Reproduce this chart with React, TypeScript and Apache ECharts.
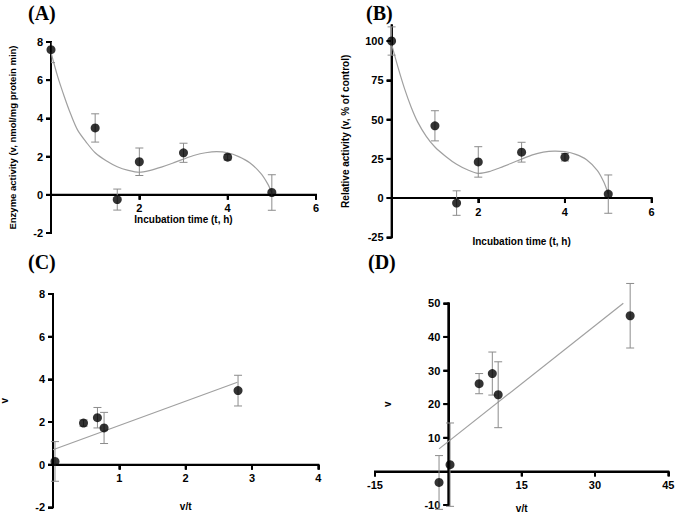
import React, { useEffect, useRef } from "react";
import * as echarts from "echarts";

// Panel A: enzyme activity vs incubation time
const timeA = [0, 1, 1.5, 2, 3, 4, 5];
const activityA = [7.6, 3.5, -0.25, 1.73, 2.2, 1.97, 0.12];
const errA = [0.68, 0.74, 0.55, 0.72, 0.5, 0.15, 0.93];
const fitTimeA = [0, 0.15, 0.3, 0.45, 0.6, 0.8, 1.0, 1.25, 1.5, 1.75, 2.0, 2.25, 2.5, 2.75, 3.0, 3.25, 3.5, 3.75, 4.0, 4.25, 4.5, 4.75, 4.9, 5.0];
const fitActivityA = [7.45, 6.2, 5.15, 4.2, 3.4, 2.75, 2.2, 1.78, 1.47, 1.28, 1.18, 1.28, 1.45, 1.65, 1.87, 2.07, 2.2, 2.26, 2.2, 2.0, 1.68, 1.12, 0.6, 0.12];

// Panel B: relative activity (% of control)
const timeB = [0, 1, 1.5, 2, 3, 4, 5];
const relativeB = [100, 46, -3.2, 23, 29.2, 26, 2.5];
const errB = [9, 9.6, 7.8, 9.7, 6.3, 2.4, 12.2];
const fitTimeB = [0, 0.15, 0.3, 0.45, 0.6, 0.8, 1.0, 1.25, 1.5, 1.75, 2.0, 2.25, 2.5, 2.75, 3.0, 3.25, 3.5, 3.75, 4.0, 4.25, 4.5, 4.75, 4.9, 5.0];
const fitRelativeB = [98, 83, 69.5, 58, 48.5, 39.3, 32.5, 26.5, 21.5, 18, 15.7, 16.8, 19.3, 22, 24.8, 27.5, 29.2, 29.9, 29.5, 27.8, 24.4, 17.5, 10, 2.5];

// Panel C: v vs v/t
const vtC = [0.03, 2.79, 0.46, 0.67, 0.77];
const vC = [0.15, 3.47, 1.95, 2.2, 1.72];
const errC = [0.93, 0.72, 0.15, 0.48, 0.73];
const lineVtC = [0, 2.78];
const lineVC = [0.7, 3.86];

// Panel D: v (%) vs v/t
const vtD = [-1.9, 0.35, 37.2, 6.3, 9.0, 10.2];
const vD = [-3.3, 2.0, 46.3, 26.1, 29.1, 22.8];
const errD = [8, 12.4, 9.6, 3, 6.4, 9.8];
const lineVtD = [-1.9, 35.8];
const lineVD = [6.7, 50];

// Tick values
const xTicksA = [2, 4, 6];
const yTicksA = [-2, 0, 2, 4, 6, 8];
const xTicksB = [2, 4, 6];
const yTicksB = [-25, 0, 25, 50, 75, 100];
const xTicksC = [1, 2, 3, 4];
const yTicksC = [-2, 0, 2, 4, 6, 8];
const xTicksD = [-15, 15, 30, 45];
const yTicksD = [-10, 10, 20, 30, 40, 50];

const FONT = "Liberation Sans, Arial, Helvetica, sans-serif";
const SERIF = "Liberation Serif, Times New Roman, serif";

const zip2 = (xs: number[], ys: number[]) => xs.map((x, i) => [x, ys[i]]);
const zip3 = (xs: number[], ys: number[], es: number[]) => xs.map((x, i) => [x, ys[i], es[i]]);

const hideZero = (v: number) => (v === 0 ? "" : String(v));

// grid rectangles (pixels)
const G = [
  { left: 51, top: 42, width: 265, height: 191 },
  { left: 391.6, top: 25.3, width: 260, height: 212 },
  { left: 53, top: 294, width: 265.3, height: 213.3 },
  { left: 375, top: 303.3, width: 293.3, height: 201.7 },
];
const yRange = [[-2, 8], [-25, 110], [-2, 8], [-10, 50]];
const xRange = [[0, 6], [0, 6], [0, 4], [-15, 45]];

const xOffset = (i: number) => {
  const [lo, hi] = yRange[i];
  return -(G[i].height * (0 - lo)) / (hi - lo);
};
const yOffset = (i: number) => {
  const [lo, hi] = xRange[i];
  return -(G[i].width * (0 - lo)) / (hi - lo);
};

function axis(extra: any, labelExtra: any = {}, tickExtra: any = {}, nameSize = 10) {
  return {
    type: "value",
    axisLine: { show: true, onZero: false, lineStyle: { color: "#000", width: 2 } },
    axisTick: { show: true, length: 5, lineStyle: { color: "#000", width: 2 }, ...tickExtra },
    axisLabel: { show: true, color: "#000", fontFamily: FONT, fontWeight: "bold", fontSize: 11, margin: 8, ...labelExtra },
    splitLine: { show: false },
    nameTextStyle: { color: "#000", fontFamily: FONT, fontWeight: "bold", fontSize: nameSize },
    nameLocation: "middle",
    ...extra,
  };
}

// axis lines and ticks, drawn through the panel's coordinate system
function frameSeries(idx: number, xTicks: number[], yTicks: number[]) {
  const [x0, x1] = xRange[idx];
  const [y0, y1] = yRange[idx];
  return {
    type: "custom",
    xAxisIndex: idx,
    yAxisIndex: idx,
    encode: { x: 0, y: 1 },
    data: [[0, 0]],
    silent: true,
    renderItem: (_params: any, api: any) => {
      const style = { stroke: "#000", lineWidth: 2 };
      const children: any[] = [];
      const xa = api.coord([x0, 0]);
      const xb = api.coord([x1, 0]);
      children.push({ type: "line", shape: { x1: xa[0] - 1, y1: xa[1], x2: xb[0] + 1, y2: xb[1] }, style });
      const ya = api.coord([0, y0]);
      const yb = api.coord([0, y1]);
      children.push({ type: "line", shape: { x1: ya[0], y1: ya[1] + 1, x2: yb[0], y2: yb[1] - 1 }, style });
      xTicks.forEach((t) => {
        const p = api.coord([t, 0]);
        children.push({ type: "line", shape: { x1: p[0], y1: p[1], x2: p[0], y2: p[1] + 5 }, style });
      });
      yTicks.forEach((t) => {
        const p = api.coord([0, t]);
        children.push({ type: "line", shape: { x1: p[0], y1: p[1], x2: p[0] - 5, y2: p[1] }, style });
      });
      return { type: "group", children };
    },
  };
}

function errorSeries(idx: number, data: number[][], clip: boolean) {
  return {
    type: "custom",
    xAxisIndex: idx,
    yAxisIndex: idx,
    clip,
    encode: { x: 0, y: 1 },
    data,
    renderItem: (_params: any, api: any) => {
      const x = api.value(0);
      const y = api.value(1);
      const e = api.value(2);
      const top = api.coord([x, y + e]);
      const bot = api.coord([x, y - e]);
      const w = 4;
      const style = { stroke: "#8c8c8c", lineWidth: 1 };
      return {
        type: "group",
        children: [
          { type: "line", shape: { x1: top[0], y1: top[1], x2: bot[0], y2: bot[1] }, style },
          { type: "line", shape: { x1: top[0] - w, y1: top[1], x2: top[0] + w, y2: top[1] }, style },
          { type: "line", shape: { x1: bot[0] - w, y1: bot[1], x2: bot[0] + w, y2: bot[1] }, style },
        ],
      };
    },
  };
}

function pointSeries(idx: number, data: number[][]) {
  return {
    type: "scatter",
    xAxisIndex: idx,
    yAxisIndex: idx,
    symbol: "circle",
    symbolSize: 9,
    itemStyle: { color: "#000" },
    data,
  };
}

// curve drawn as one polyline through the axis coordinate system
function curveSeries(idx: number, data: number[][], smooth: number) {
  return {
    type: "custom",
    xAxisIndex: idx,
    yAxisIndex: idx,
    encode: { x: 0, y: 1 },
    data,
    renderItem: (params: any, api: any) => {
      if (params.dataIndex !== 0) return null;
      const pts = data.map((p) => api.coord(p));
      return {
        type: "polyline",
        shape: { points: pts, smooth },
        style: { stroke: "#a0a0a0", lineWidth: 1.2, fill: "none" },
      };
    },
  };
}

export default function App() {
  const ref = useRef<HTMLDivElement>(null);
  useEffect(() => {
    if (!ref.current) return;
    const chart = echarts.init(ref.current, undefined, { renderer: "svg" });
    const option: any = {
      animation: false,
      backgroundColor: "#fff",
      grid: G.map((g) => ({ ...g, outerBoundsMode: "none" })),
      xAxis: [
        axis({ gridIndex: 0, position: "bottom", offset: xOffset(0), min: 0, max: 6, interval: 2,
          name: "Incubation time (t, h)", nameGap: 15 }, { formatter: hideZero }),
        axis({ gridIndex: 1, position: "bottom", offset: xOffset(1), min: 0, max: 6, interval: 2,
          name: "Incubation time (t, h)", nameGap: 38 }, { formatter: hideZero }),
        axis({ gridIndex: 2, position: "bottom", offset: xOffset(2), min: 0, max: 4, interval: 1,
          name: "v/t", nameGap: 37 }, { formatter: hideZero }),
        axis({ gridIndex: 3, position: "bottom", offset: xOffset(3), min: -15, max: 45, interval: 15,
          name: "v/t", nameGap: 32 }, { formatter: hideZero }),
      ],
      yAxis: [
        axis({ gridIndex: 0, position: "left", offset: 0, min: -2, max: 8, interval: 2,
          name: "Enzyme activity (v, nmol/mg protein min)", nameGap: 34 }, {}, {}, 9.5),
        axis({ gridIndex: 1, position: "left", offset: 0, min: -25, max: 110, interval: 25,
          name: "Relative activity (v, % of control)", nameGap: 41 },
          { customValues: yTicksB }, { customValues: yTicksB }),
        axis({ gridIndex: 2, position: "left", offset: 0, min: -2, max: 8, interval: 2,
          name: "v", nameGap: 44 }),
        axis({ gridIndex: 3, position: "left", offset: yOffset(3), min: -10, max: 50, interval: 10,
          name: "v", nameGap: 56 }, { formatter: hideZero }),
      ],
      graphic: [
        { type: "text", left: 28, top: 3, style: { text: "(A)", font: `bold 20px ${SERIF}`, fill: "#000" } },
        { type: "text", left: 366, top: 3, style: { text: "(B)", font: `bold 20px ${SERIF}`, fill: "#000" } },
        { type: "text", left: 28, top: 252, style: { text: "(C)", font: `bold 20px ${SERIF}`, fill: "#000" } },
        { type: "text", left: 368, top: 252, style: { text: "(D)", font: `bold 20px ${SERIF}`, fill: "#000" } },
      ],
      series: [
        frameSeries(0, xTicksA, yTicksA),
        curveSeries(0, zip2(fitTimeA, fitActivityA), 0.3),
        errorSeries(0, zip3(timeA, activityA, errA), true),
        pointSeries(0, zip2(timeA, activityA)),
        frameSeries(1, xTicksB, yTicksB),
        curveSeries(1, zip2(fitTimeB, fitRelativeB), 0.3),
        errorSeries(1, zip3(timeB, relativeB, errB), false),
        pointSeries(1, zip2(timeB, relativeB)),
        frameSeries(2, xTicksC, yTicksC),
        curveSeries(2, zip2(lineVtC, lineVC), 0),
        errorSeries(2, zip3(vtC, vC, errC), false),
        pointSeries(2, zip2(vtC, vC)),
        frameSeries(3, xTicksD, yTicksD),
        curveSeries(3, zip2(lineVtD, lineVD), 0),
        errorSeries(3, zip3(vtD, vD, errD), false),
        pointSeries(3, zip2(vtD, vD)),
      ],
    };
    chart.setOption(option);
    return () => chart.dispose();
  }, []);
  return (
    <div
      ref={ref}
      style={{ position: "fixed", left: 0, top: 0, width: 678, height: 520, background: "#fff" }}
    />
  );
}
